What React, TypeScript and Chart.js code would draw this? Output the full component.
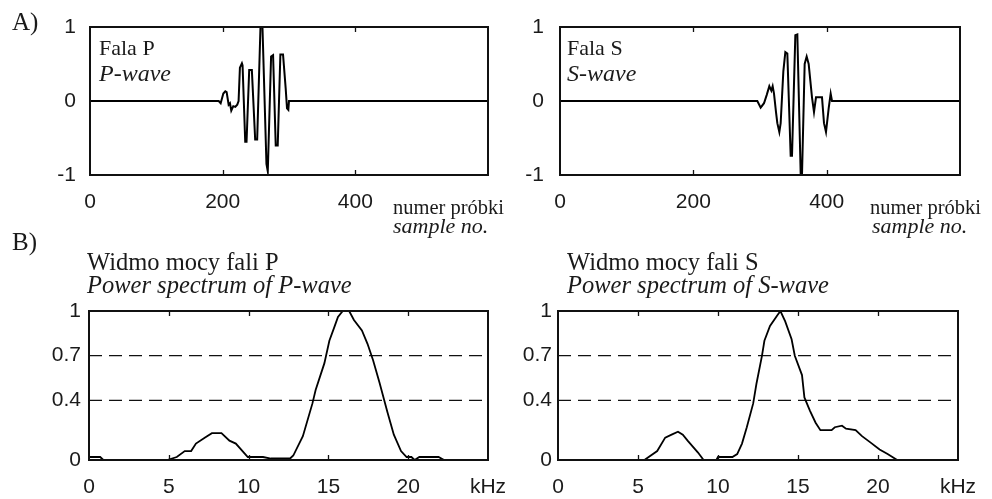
import React, { useEffect, useRef } from "react";
import { Chart, registerables } from "chart.js";

Chart.register(...registerables);

// ---------- data ----------
const pWaveSamples = [0, 194, 197, 201, 204, 206, 209, 211, 213, 216, 219, 222, 224, 226, 229, 230, 234, 236, 240, 244, 249, 252, 257, 260, 266, 268, 273, 276, 280, 283, 287, 291, 295, 297, 299, 300, 600];
const pWaveValues = [0, 0, -0.03, 0.1, 0.13, 0.12, -0.05, -0.03, -0.13, -0.07, -0.08, -0.05, 0, 0.45, 0.51, 0.48, -0.55, -0.55, 0.42, 0.42, -0.52, -0.52, 1.0, 1.0, -0.85, -0.95, 0.6, 0.62, -0.6, -0.6, 0.63, 0.63, 0.17, -0.1, -0.12, 0, 0];

const sWaveSamples = [0, 296, 301, 306, 310, 314, 317, 319, 321, 324, 326, 329, 331, 333, 335, 338, 341, 346, 348, 353, 356, 361, 363, 367, 370, 373, 378, 381, 384, 390, 393, 396, 399, 403, 406, 408, 600];
const sWaveValues = [0, 0, -0.09, -0.03, 0.08, 0.2, 0.14, 0.2, 0.1, -0.15, -0.3, -0.42, -0.3, 0.05, 0.4, 0.66, 0.64, -0.74, -0.74, 0.89, 0.9, -0.98, -1.0, 0.5, 0.6, 0.5, 0.05, -0.15, 0.05, 0.05, 0.05, -0.3, -0.42, -0.1, 0.1, 0, 0];

const pSpecFreq = [0, 0.7, 0.9, 4.9, 5.5, 6.0, 6.4, 6.7, 7.25, 7.7, 8.3, 8.8, 9.2, 9.95, 10.9, 11.4, 12.6, 12.8, 13.4, 14.0, 14.2, 14.75, 15.06, 15.4, 15.6, 15.9, 16.3, 16.6, 17.1, 17.45, 17.8, 18.2, 18.7, 19.1, 19.55, 19.9, 20.2, 20.4, 20.7, 21.9, 22.25, 25];
const pSpecPower = [0.02, 0.02, 0, 0, 0.02, 0.06, 0.06, 0.11, 0.15, 0.18, 0.18, 0.13, 0.11, 0.02, 0.02, 0.01, 0.01, 0.03, 0.16, 0.38, 0.47, 0.65, 0.8, 0.9, 0.96, 1.0, 1.0, 0.94, 0.87, 0.78, 0.67, 0.52, 0.32, 0.17, 0.06, 0.02, 0.02, 0, 0.02, 0.02, 0, 0];

const sSpecFreq = [0, 5.4, 6.2, 6.7, 7.1, 7.5, 7.8, 8.1, 8.75, 9.1, 9.9, 10.0, 10.9, 11.2, 11.5, 11.8, 12.2, 12.4, 12.75, 12.9, 13.25, 13.7, 13.9, 14.2, 14.6, 14.8, 15.25, 15.4, 15.75, 16.1, 16.4, 17.1, 17.3, 17.75, 18.0, 18.6, 19.0, 19.5, 20.1, 20.6, 21.2, 25];
const sSpecPower = [0, 0, 0.06, 0.15, 0.17, 0.19, 0.17, 0.13, 0.05, 0, 0, 0.02, 0.02, 0.04, 0.11, 0.22, 0.38, 0.51, 0.7, 0.8, 0.9, 0.97, 1.0, 0.93, 0.81, 0.7, 0.57, 0.42, 0.33, 0.25, 0.2, 0.2, 0.22, 0.23, 0.21, 0.2, 0.16, 0.12, 0.07, 0.04, 0, 0];

const waveXTicks = [0, 200, 400, 600];
const waveYTicks = [-1, 0, 1];
const specXTicks = [0, 5, 10, 15, 20, 25];
const specYTicks = [0, 0.4, 0.7, 1];
const thresholdLevels = [0.4, 0.7];
const specRange = [0, 25];
const waveRange = [0, 600];

// ---------- styling ----------
const SANS = "'Liberation Sans', Arial, sans-serif";
const SERIF = "'Liberation Serif', 'Times New Roman', serif";
const INK = "#1a1a1a";

type Txt = { text: string; x: number; y: number; italic?: boolean; size?: number };
type Spec = {
  left: number; top: number; w: number; h: number;
  area: { l: number; t: number; r: number; b: number };
  series: { x: number; y: number }[];
  lineWidth: number;
  xMin: number; xMax: number; yMin: number; yMax: number;
  xTicks: number[]; yTicks: number[];
  xLabel: (v: number) => string;
  yPad: number; xPad: number;
  dashed: number[];
  texts: Txt[];
};

const toPoints = (xs: number[], ys: number[]) => xs.map((x, i) => ({ x, y: ys[i] }));

const framePlugin = {
  id: "frame",
  afterDatasetsDraw(chart: any, _args: any, opts: any) {
    const { ctx, chartArea: a, scales } = chart;
    ctx.save();
    ctx.strokeStyle = "#111";
    ctx.lineWidth = 2;
    ctx.strokeRect(a.left, a.top, a.right - a.left, a.bottom - a.top);
    ctx.lineWidth = 1.3;
    for (const v of opts.xInner as number[]) {
      const px = Math.round(scales.x.getPixelForValue(v)) + 0.5;
      ctx.beginPath();
      ctx.moveTo(px, a.top);
      ctx.lineTo(px, a.top + 5);
      ctx.moveTo(px, a.bottom);
      ctx.lineTo(px, a.bottom - 5);
      ctx.stroke();
    }
    ctx.fillStyle = INK;
    ctx.textBaseline = "alphabetic";
    ctx.textAlign = "left";
    for (const t of opts.texts as Txt[]) {
      ctx.font = `${t.italic ? "italic " : ""}${t.size || 22}px ${SERIF}`;
      ctx.fillText(t.text, t.x, t.y);
    }
    ctx.restore();
  },
};

function Panel({ s }: { s: Spec }) {
  const ref = useRef<HTMLCanvasElement>(null);
  useEffect(() => {
    const datasets: any[] = [
      {
        data: s.series,
        borderColor: "#000",
        borderWidth: s.lineWidth,
        pointRadius: 0,
        tension: 0,
        fill: false,
      },
    ];
    s.dashed.forEach((lvl) => {
      datasets.push({
        data: [
          { x: specRange[0], y: lvl },
          { x: specRange[1], y: lvl },
        ],
        borderColor: "#111",
        borderWidth: 1.3,
        borderDash: [13, 7],
        pointRadius: 0,
        fill: false,
      });
    });
    const chart = new Chart(ref.current as HTMLCanvasElement, {
      type: "line",
      data: { datasets },
      options: {
        animation: false,
        responsive: false,
        devicePixelRatio: 1,
        events: [],
        layout: { padding: { left: 0, top: s.area.t, right: s.w - s.area.r, bottom: 0 } },
        plugins: {
          legend: { display: false },
          tooltip: { enabled: false },
          frame: {
            xInner: s.xTicks.filter((v) => v > s.xMin && v < s.xMax),
            texts: s.texts.map((t) => ({ ...t, x: t.x - s.left, y: t.y - s.top })),
          },
        } as any,
        scales: {
          x: {
            type: "linear",
            min: s.xMin,
            max: s.xMax,
            grid: { display: false, drawTicks: false },
            border: { display: false },
            afterBuildTicks: (sc: any) => {
              sc.ticks = s.xTicks.map((v) => ({ value: v }));
            },
            afterFit: (sc: any) => {
              sc.height = s.h - s.area.b;
              sc.paddingLeft = 0;
              sc.paddingRight = 0;
              sc.paddingTop = 0;
              sc.paddingBottom = 0;
            },
            ticks: {
              autoSkip: false,
              maxRotation: 0,
              minRotation: 0,
              padding: s.xPad,
              color: INK,
              font: { family: SANS, size: 21 },
              callback: (v: any) => s.xLabel(Number(v)),
            },
          },
          y: {
            type: "linear",
            min: s.yMin,
            max: s.yMax,
            grid: { display: false, drawTicks: false },
            border: { display: false },
            afterBuildTicks: (sc: any) => {
              sc.ticks = s.yTicks.map((v) => ({ value: v }));
            },
            afterFit: (sc: any) => {
              sc.width = s.area.l;
              sc.paddingLeft = 0;
              sc.paddingRight = 0;
              sc.paddingTop = 0;
              sc.paddingBottom = 0;
            },
            ticks: {
              padding: s.yPad,
              color: INK,
              font: { family: SANS, size: 21 },
              callback: (v: any) => String(v),
            },
          },
        },
      },
      plugins: [framePlugin],
    });
    return () => chart.destroy();
  }, []);
  return (
    <canvas
      ref={ref}
      width={s.w}
      height={s.h}
      style={{ position: "absolute", left: s.left, top: s.top, width: s.w, height: s.h, display: "block" }}
    />
  );
}

const waveLabel = (v: number) => (v === waveRange[1] ? "" : String(v));
const specLabel = (v: number) => (v === specRange[1] ? "kHz" : String(v));

const panels: Spec[] = [
  {
    left: 0, top: 0, w: 520, h: 245,
    area: { l: 90, t: 27, r: 488, b: 175 },
    series: toPoints(pWaveSamples, pWaveValues),
    lineWidth: 2,
    xMin: waveRange[0], xMax: waveRange[1], yMin: -1, yMax: 1,
    xTicks: waveXTicks, yTicks: waveYTicks, xLabel: waveLabel,
    yPad: 14, xPad: 15, dashed: [],
    texts: [
      { text: "A)", x: 12, y: 30, size: 25 },
      { text: "Fala P", x: 99, y: 55, size: 22 },
      { text: "P-wave", x: 99, y: 81, italic: true, size: 24 },
      { text: "numer próbki", x: 393, y: 214, size: 20.5 },
      { text: "sample no.", x: 393, y: 233, italic: true, size: 22 },
    ],
  },
  {
    left: 496, top: 0, w: 496, h: 245,
    area: { l: 64, t: 27, r: 464, b: 175 },
    series: toPoints(sWaveSamples, sWaveValues),
    lineWidth: 2,
    xMin: waveRange[0], xMax: waveRange[1], yMin: -1, yMax: 1,
    xTicks: waveXTicks, yTicks: waveYTicks, xLabel: waveLabel,
    yPad: 16, xPad: 15, dashed: [],
    texts: [
      { text: "Fala S", x: 567, y: 55, size: 22 },
      { text: "S-wave", x: 567, y: 81, italic: true, size: 24 },
      { text: "numer próbki", x: 870, y: 214, size: 20.5 },
      { text: "sample no.", x: 872, y: 233, italic: true, size: 22 },
    ],
  },
  {
    left: 0, top: 228, w: 520, h: 271,
    area: { l: 89, t: 83, r: 488, b: 232 },
    series: toPoints(pSpecFreq, pSpecPower),
    lineWidth: 1.8,
    xMin: specRange[0], xMax: specRange[1], yMin: 0, yMax: 1,
    xTicks: specXTicks, yTicks: specYTicks, xLabel: specLabel,
    yPad: 8, xPad: 15, dashed: thresholdLevels,
    texts: [
      { text: "B)", x: 12, y: 250, size: 25 },
      { text: "Widmo mocy fali P", x: 87, y: 270, size: 24.5 },
      { text: "Power spectrum of P-wave", x: 87, y: 293, italic: true, size: 24.5 },
    ],
  },
  {
    left: 496, top: 228, w: 496, h: 271,
    area: { l: 62, t: 83, r: 462, b: 232 },
    series: toPoints(sSpecFreq, sSpecPower),
    lineWidth: 1.8,
    xMin: specRange[0], xMax: specRange[1], yMin: 0, yMax: 1,
    xTicks: specXTicks, yTicks: specYTicks, xLabel: specLabel,
    yPad: 6, xPad: 15, dashed: thresholdLevels,
    texts: [
      { text: "Widmo mocy fali S", x: 567, y: 270, size: 24.5 },
      { text: "Power spectrum of S-wave", x: 567, y: 293, italic: true, size: 24.5 },
    ],
  },
];

export default function App() {
  return (
    <div style={{ position: "absolute", left: 0, top: 0, width: 992, height: 499, background: "#fff", overflow: "hidden" }}>
      {panels.map((p, i) => (
        <Panel key={i} s={p} />
      ))}
    </div>
  );
}
